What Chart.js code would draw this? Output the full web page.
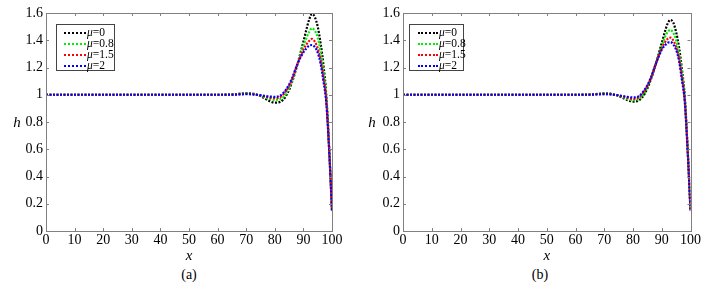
<!DOCTYPE html>
<html>
<head>
<meta charset="utf-8">
<script src="https://cdn.jsdelivr.net/npm/chart.js@4/dist/chart.umd.min.js"></script>
<style>
  body { margin: 0; background: #fff; width: 702px; height: 286px; position: relative; overflow: hidden;
         font-family: "Liberation Serif", "Times New Roman", serif; color: #000; }
  canvas { position: absolute; top: 0; }
  .lbl { position: absolute; font-size: 14px; line-height: 1; transform: translate(-50%, -50%); white-space: nowrap; }
  .legend { position: absolute; border: 1px solid #444; background: #fff; font-size: 11.5px; }
  .row { position: absolute; height: 11px; line-height: 11px; white-space: nowrap; }
  .row span.sample { display: inline-block; border-top: 2px dotted; vertical-align: middle; margin-right: 1px; }
</style>
</head>
<body>
<canvas id="chartA" width="345" height="266" style="left:0"></canvas>
<canvas id="chartB" width="352" height="266" style="left:350px"></canvas>

<div class="lbl" style="left:17px;top:122px;font-style:italic;font-size:15px">h</div>
<div class="lbl" style="left:372px;top:122px;font-style:italic;font-size:15px">h</div>
<div class="lbl" style="left:189px;top:275px">(a)</div>
<div class="lbl" style="left:540px;top:275px">(b)</div>

<div id="legendA" class="legend" style="left:56px;top:24px;width:57px;height:45px"></div>
<div id="legendB" class="legend" style="left:409px;top:24px;width:53px;height:45px"></div>

<script>
// x positions shared by every curve
const xs = [0, 10, 20, 30, 40, 50, 60, 65, 68, 70, 72, 75, 78, 80, 82, 84, 86, 88, 90, 92, 93, 94, 95, 96, 97, 98, 99, 100];

const labels = ['0', '0.8', '1.5', '2'];
const colors = ['#000000', '#00ee00', '#ff0000', '#0000ff'];

// (a)
const a_mu0  = [1, 1, 1, 1, 1, 1, 1, 1.002, 1.008, 1.012, 1.01, 0.99, 0.955, 0.942, 0.948, 0.995, 1.09, 1.23, 1.39, 1.55, 1.593, 1.57, 1.50, 1.38, 1.22, 1.0, 0.62, 0.15];
const a_mu08 = [1, 1, 1, 1, 1, 1, 1, 1.002, 1.006, 1.01, 1.007, 0.993, 0.97, 0.962, 0.968, 1.01, 1.10, 1.23, 1.36, 1.46, 1.488, 1.47, 1.42, 1.32, 1.17, 0.98, 0.61, 0.15];
const a_mu15 = [1, 1, 1, 1, 1, 1, 1, 1.001, 1.004, 1.006, 1.005, 0.995, 0.98, 0.975, 0.985, 1.03, 1.11, 1.23, 1.33, 1.395, 1.41, 1.39, 1.34, 1.26, 1.13, 0.96, 0.60, 0.15];
const a_mu2  = [1, 1, 1, 1, 1, 1, 1, 1.0, 1.003, 1.004, 1.003, 0.996, 0.987, 0.985, 0.995, 1.04, 1.12, 1.23, 1.31, 1.36, 1.365, 1.35, 1.31, 1.23, 1.10, 0.94, 0.59, 0.15];

// (b)
const b_mu0  = [1, 1, 1, 1, 1, 1, 1, 1.002, 1.007, 1.01, 1.008, 0.99, 0.962, 0.95, 0.958, 1.005, 1.10, 1.23, 1.38, 1.52, 1.549, 1.53, 1.46, 1.35, 1.19, 0.99, 0.61, 0.15];
const b_mu08 = [1, 1, 1, 1, 1, 1, 1, 1.002, 1.006, 1.008, 1.006, 0.993, 0.97, 0.96, 0.968, 1.015, 1.11, 1.23, 1.36, 1.46, 1.475, 1.455, 1.40, 1.30, 1.16, 0.97, 0.60, 0.15];
const b_mu15 = [1, 1, 1, 1, 1, 1, 1, 1.001, 1.004, 1.005, 1.004, 0.995, 0.978, 0.97, 0.98, 1.03, 1.11, 1.23, 1.34, 1.41, 1.419, 1.40, 1.35, 1.27, 1.13, 0.96, 0.60, 0.15];
const b_mu2  = [1, 1, 1, 1, 1, 1, 1, 1.0, 1.003, 1.004, 1.003, 0.996, 0.985, 0.98, 0.99, 1.035, 1.115, 1.23, 1.33, 1.38, 1.387, 1.37, 1.33, 1.25, 1.11, 0.95, 0.59, 0.15];

const xTicks = [0, 10, 20, 30, 40, 50, 60, 70, 80, 90, 100];
const yTicks = [0, 0.2, 0.4, 0.6, 0.8, 1, 1.2, 1.4, 1.6];

const serif = '"Liberation Serif", "Times New Roman", serif';

// frame + MATLAB style inward ticks
const framePlugin = {
    id: 'frame',
    afterDraw(chart) {
        const { ctx, chartArea: a, scales } = chart;
        ctx.save();
        ctx.strokeStyle = '#808080';
        ctx.lineWidth = 1;
        ctx.strokeRect(Math.round(a.left) + 0.5, Math.round(a.top) + 0.5, Math.round(a.right - a.left), Math.round(a.bottom - a.top));
        ctx.beginPath();
        xTicks.forEach(v => {
            const px = Math.round(scales.x.getPixelForValue(v)) + 0.5;
            ctx.moveTo(px, a.bottom); ctx.lineTo(px, a.bottom - 3);
            ctx.moveTo(px, a.top); ctx.lineTo(px, a.top + 3);
        });
        yTicks.forEach(v => {
            const py = Math.round(scales.y.getPixelForValue(v)) + 0.5;
            ctx.moveTo(a.left, py); ctx.lineTo(a.left + 3, py);
            ctx.moveTo(a.right, py); ctx.lineTo(a.right - 3, py);
        });
        ctx.stroke();
        ctx.restore();
    }
};

function makeChart(id, series, yWidth, padRight) {
    const datasets = series.map((s, i) => ({
        label: 'μ=' + labels[i],
        data: xs.map((x, j) => ({ x: x, y: s[j] })),
        borderColor: colors[i],
        borderWidth: 2.2,
        borderDash: [2, 1.5],
        pointRadius: 0,
        cubicInterpolationMode: 'monotone',
        fill: false,
        order: series.length - i
    }));

    return new Chart(document.getElementById(id), {
        type: 'line',
        data: { datasets },
        options: {
            responsive: false,
            animation: false,
            layout: { padding: { top: 13, right: padRight, left: 0, bottom: 0 } },
            plugins: { legend: { display: false }, tooltip: { enabled: false } },
            scales: {
                x: {
                    type: 'linear', min: 0, max: 100,
                    afterBuildTicks: s => { s.ticks = xTicks.map(v => ({ value: v })); },
                    afterFit: s => { s.height = 35; },
                    grid: { display: false, drawTicks: false },
                    border: { display: false },
                    ticks: { color: '#000', padding: 1, maxRotation: 0, autoSkip: false, font: { family: serif, size: 14 } },
                    title: { display: true, text: 'x', color: '#000', padding: { top: 0, bottom: 1 }, font: { family: serif, size: 15, style: 'italic' } }
                },
                y: {
                    min: 0, max: 1.6,
                    afterBuildTicks: s => { s.ticks = yTicks.map(v => ({ value: v })); },
                    afterFit: s => { s.width = yWidth; },
                    grid: { display: false, drawTicks: false },
                    border: { display: false },
                    ticks: { color: '#000', padding: 3, font: { family: serif, size: 14 },
                             callback: v => String(Number(v.toFixed(1))) }
                }
            }
        },
        plugins: [framePlugin]
    });
}

function makeLegend(id, sampleLeft, sampleWidth) {
    const box = document.getElementById(id);
    labels.forEach((l, i) => {
        const row = document.createElement('div');
        row.className = 'row';
        row.style.left = sampleLeft + 'px';
        row.style.top = (2 + i * 11) + 'px';
        row.innerHTML = '<span class="sample" style="width:' + sampleWidth + 'px;border-color:' + colors[i] + '"></span><i>μ</i>=' + l;
        box.appendChild(row);
    });
}

makeChart('chartA', [a_mu0, a_mu08, a_mu15, a_mu2], 46, 13);
makeChart('chartB', [b_mu0, b_mu08, b_mu15, b_mu2], 53, 11);
makeLegend('legendA', 7, 22);
makeLegend('legendB', 8, 20);
</script>
</body>
</html>
